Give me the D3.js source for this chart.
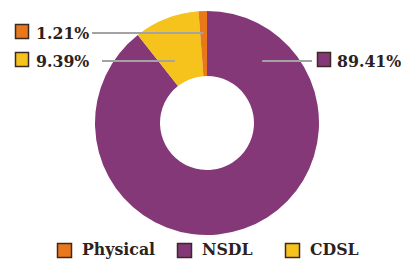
<!DOCTYPE html>
<html>
<head>
<meta charset="utf-8">
<script src="https://cdn.jsdelivr.net/npm/d3@7"></script>
<style>
  body { margin: 0; background: #fff; }
  svg { display: block; }
  text { font-family: "DejaVu Serif Condensed", "DejaVu Serif", serif; font-weight: bold; fill: #2b2220; font-stretch: condensed; }
</style>
</head>
<body>
<div id="chart"></div>
<script>
// data
const categories = ["NSDL", "CDSL", "Physical"];
const shares = [89.41, 9.39, 1.21];
const legendOrder = ["Physical", "NSDL", "CDSL"];
const colors = { NSDL: "#843878", CDSL: "#F6C21C", Physical: "#E8781A" };

const w = 401, h = 259;
const cx = 207, cy = 123, outerR = 112, innerR = 47;

const svg = d3.select("#chart").append("svg")
  .attr("width", w).attr("height", h);

const pie = d3.pie().sort(null).value(d => d.v);
const arcs = pie(categories.map((c, i) => ({ c: c, v: shares[i] })));
const arc = d3.arc().innerRadius(innerR).outerRadius(outerR);

const g = svg.append("g").attr("transform", `translate(${cx},${cy})`);
g.selectAll("path").data(arcs).enter().append("path")
  .attr("d", arc)
  .attr("fill", d => colors[d.data.c]);

// callout labels: side + label y
const callouts = {
  Physical: { side: "left", y: 33, lineStart: 92 },
  CDSL: { side: "left", y: 61, lineStart: 102 },
  NSDL: { side: "right", y: 61, lineStart: 312 }
};

arcs.forEach(d => {
  const c = callouts[d.data.c];
  const dy = c.y - cy;
  let ex;
  if (c.side === "left") {
    const mid = (d.startAngle + d.endAngle) / 2;
    ex = cx + (-dy) * Math.tan(mid);
    if (d.data.c === "CDSL") ex -= 8;
  } else {
    ex = cx + Math.sqrt(83 * 83 - dy * dy);
  }
  svg.append("line")
    .attr("x1", c.lineStart).attr("x2", ex)
    .attr("y1", c.y).attr("y2", c.y)
    .attr("stroke", "#a3a3a3").attr("stroke-width", 2);

  const label = d3.format(".2f")(d.data.v) + "%";
  let sx, tx;
  if (c.side === "left") { sx = 15; tx = 36; }
  else { sx = 317; tx = 337; }
  svg.append("rect")
    .attr("x", sx + 0.5).attr("y", c.y - 8.5)
    .attr("width", 13).attr("height", 14)
    .attr("fill", colors[d.data.c])
    .attr("stroke", "#3a2a26").attr("stroke-width", 1.5);
  svg.append("text")
    .attr("x", tx).attr("y", c.y + 6)
    .style("font-size", "17.5px")
    .text(label);
});

// bottom legend
const legendX = { Physical: 57, NSDL: 177, CDSL: 285 };
const leg = svg.append("g");
legendOrder.forEach(c => {
  leg.append("rect")
    .attr("x", legendX[c] + 0.5).attr("y", 243.5)
    .attr("width", 14).attr("height", 14)
    .attr("fill", colors[c])
    .attr("stroke", "#3a2a26").attr("stroke-width", 1.5);
  leg.append("text")
    .attr("x", legendX[c] + 25).attr("y", 255)
    .style("font-size", "17.5px")
    .text(c);
});
</script>
</body>
</html>
